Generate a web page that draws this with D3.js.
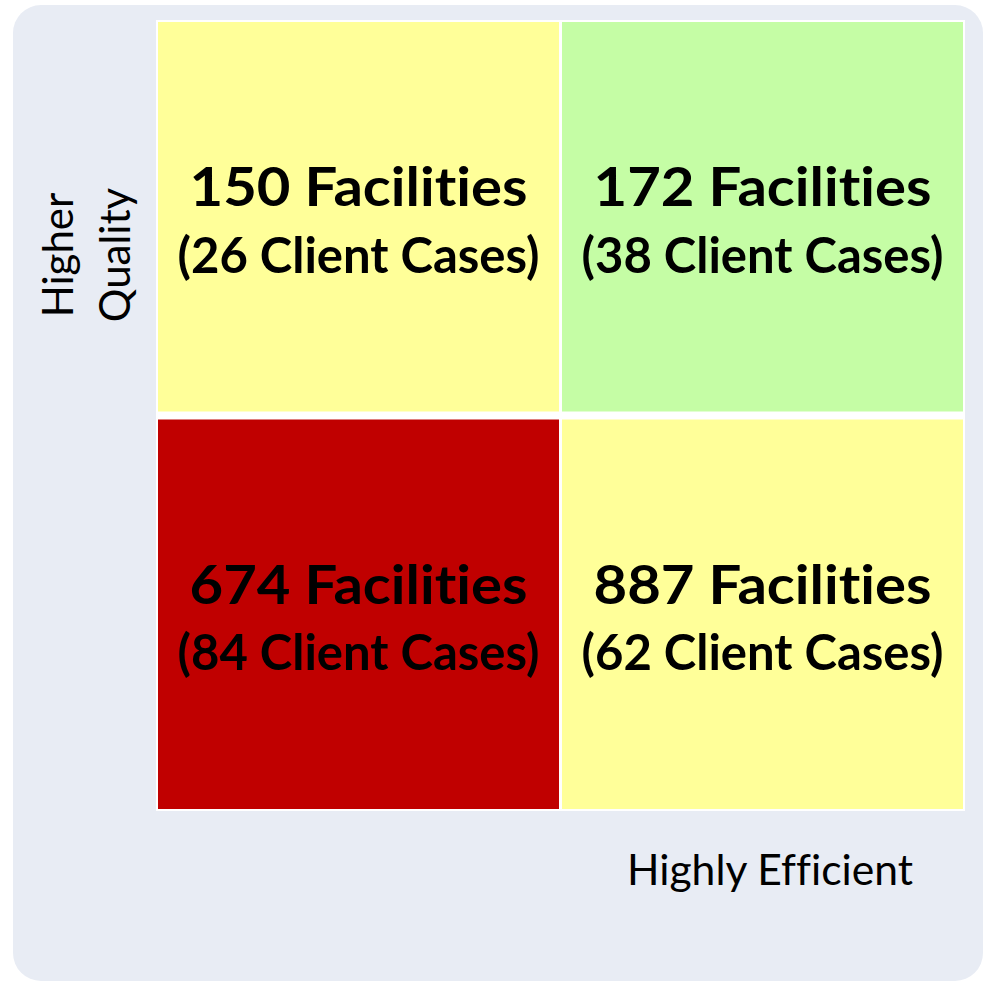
<!DOCTYPE html>
<html>
<head>
<meta charset="utf-8">
<script src="https://cdn.jsdelivr.net/npm/d3@7"></script>
<style>
  html, body { margin: 0; padding: 0; background: #ffffff; }
  svg { display: block; }
  text { font-variant-ligatures: none; font-feature-settings: "liga" 0, "clig" 0; }
</style>
</head>
<body>
<svg id="chart" width="984" height="982"></svg>
<script>
// ---- data ----
const efficiency = ["Low", "High"];          // columns
const quality = ["High", "Low"];             // rows (top to bottom)
const cellCol = ["Low", "High", "Low", "High"];
const cellRow = ["High", "High", "Low", "Low"];
const facilities = [150, 172, 674, 887];
const clientCases = [26, 38, 84, 62];
const cellColors = ["#ffff99", "#c5fda5", "#c00000", "#ffff99"];
const xLabel = "Highly Efficient";
const yLabelLines = ["Higher", "Quality"];

// ---- layout ----
const svg = d3.select("#chart");
const FONT = "Lato, 'Open Sans', sans-serif";

svg.append("rect")
  .attr("x", 13).attr("y", 5).attr("width", 970).attr("height", 976)
  .attr("rx", 28).attr("ry", 28)
  .attr("fill", "#e8ecf4");

const x = d3.scaleBand().domain(efficiency).range([158, 963]).paddingInner(3 / 404);
const y = d3.scaleBand().domain(quality).range([22, 809]).paddingInner(8 / 397.5);

// white frame
svg.append("rect")
  .attr("x", 156).attr("y", 20).attr("width", 809).attr("height", 791)
  .attr("fill", "#ffffff");

const cells = facilities.map((f, i) => ({
  col: cellCol[i], row: cellRow[i], fac: f, cases: clientCases[i], color: cellColors[i]
}));

const g = svg.append("g");
g.selectAll("rect.cell").data(cells).join("rect")
  .attr("class", "cell")
  .attr("x", d => x(d.col)).attr("y", d => y(d.row))
  .attr("width", x.bandwidth()).attr("height", y.bandwidth())
  .attr("fill", d => d.color);

const cx = d => x(d.col) + x.bandwidth() / 2;
const cy = d => y(d.row) + y.bandwidth() / 2;

g.selectAll("text.l1").data(cells).join("text")
  .attr("class", "l1")
  .attr("x", cx).attr("y", d => cy(d) - 10.5)
  .attr("text-anchor", "middle")
  .attr("font-family", FONT).attr("font-weight", "bold").attr("font-size", 53)
  .attr("fill", "#000")
  .attr("textLength", 338).attr("lengthAdjust", "spacingAndGlyphs")
  .text(d => `${d.fac} Facilities`);

g.selectAll("text.l2").data(cells).join("text")
  .attr("class", "l2")
  .attr("x", cx).attr("y", d => cy(d) + 56)
  .attr("text-anchor", "middle")
  .attr("font-family", FONT).attr("font-weight", "bold").attr("font-size", 50)
  .attr("fill", "#000")
  .attr("textLength", 362).attr("lengthAdjust", "spacingAndGlyphs")
  .text(d => `(${d.cases} Client Cases)`);

// x axis label
svg.append("text")
  .attr("x", 627).attr("y", 885)
  .attr("font-family", FONT).attr("font-size", 42)
  .attr("fill", "#000")
  .attr("textLength", 286).attr("lengthAdjust", "spacingAndGlyphs")
  .text(xLabel);

// y axis label (rotated)
const yl = svg.append("text")
  .attr("transform", "translate(73,255) rotate(-90)")
  .attr("text-anchor", "middle")
  .attr("font-family", FONT).attr("font-size", 42)
  .attr("fill", "#000");
yl.selectAll("tspan").data(yLabelLines).join("tspan")
  .attr("x", 0).attr("dy", (d, i) => i === 0 ? 0 : 57)
  .text(d => d);
</script>
</body>
</html>
